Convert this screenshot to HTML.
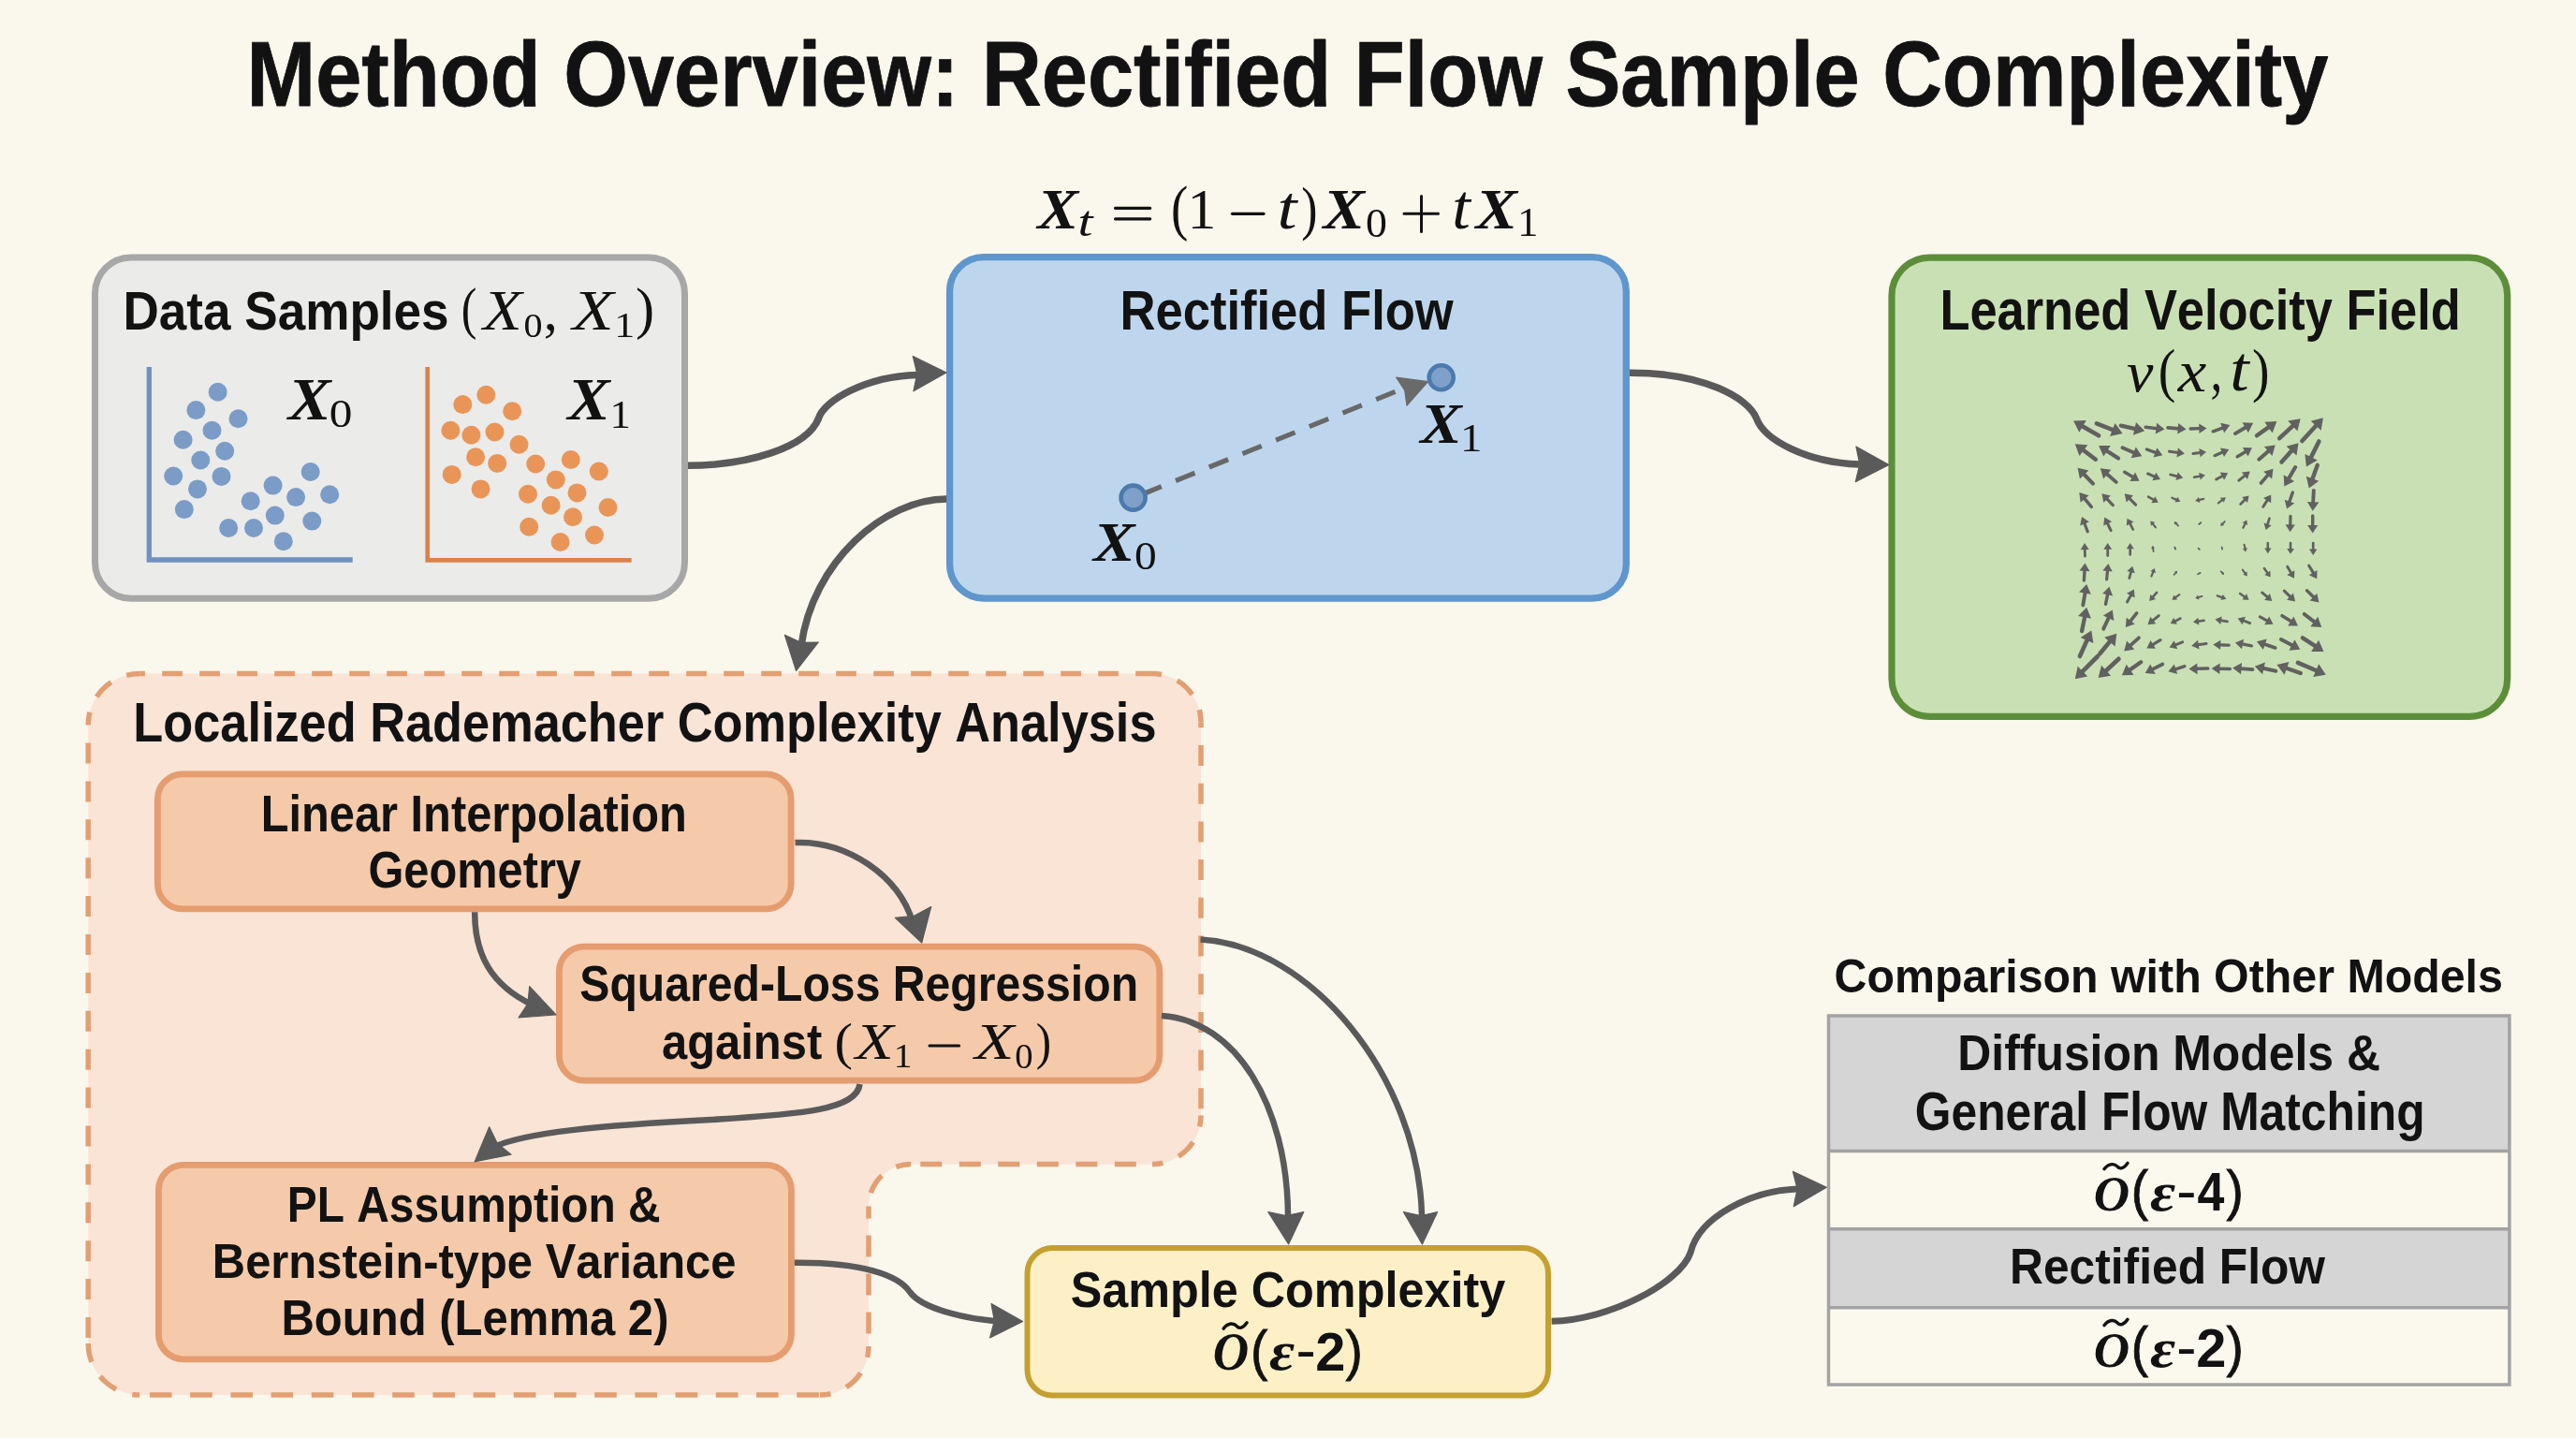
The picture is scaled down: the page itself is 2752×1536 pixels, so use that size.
<!DOCTYPE html>
<html><head><meta charset="utf-8"><style>
html,body{margin:0;padding:0;background:#FAF7ED;width:2752px;height:1536px;overflow:hidden;position:relative}
svg text{-webkit-font-smoothing:antialiased}
svg{will-change:transform}
</style></head><body>
<svg width="2752" height="1536" viewBox="0 0 2752 1536" style="position:absolute;left:0;top:0">
<rect width="2752" height="1536" fill="#FAF7ED"/>
<text transform="translate(263.59,113.00) scale(0.8939,1)" font-family='"Liberation Sans", sans-serif' font-size="98.84" font-weight="bold" font-style="normal" fill="#121212" stroke="#121212" stroke-width="0.8" stroke-linejoin="round" style="font-kerning:none">Method Overview: Rectified Flow Sample Complexity</text>
<text transform="translate(1108.27,243.70) scale(0.6579,0.6185)" font-family='"Liberation Serif", serif' font-size="100.0" font-weight="bold" font-style="italic" fill="#121212">X</text>
<text transform="translate(1151.47,251.54) scale(0.5750,0.4714)" font-family='"Liberation Serif", serif' font-size="100.0" font-weight="normal" font-style="italic" fill="#121212">t</text>
<path d="M1191.5,222.3 H1228.7 M1191.5,233.8 H1228.7" stroke="#121212" stroke-width="3.2" stroke-linecap="round"/>
<text transform="translate(1250.99,244.25) scale(0.5490,0.6551)" font-family='"Liberation Serif", serif' font-size="100.0" font-weight="normal" font-style="normal" fill="#121212">(</text>
<text transform="translate(1268.58,244.10) scale(0.6164,0.6074)" font-family='"Liberation Serif", serif' font-size="100.0" font-weight="normal" font-style="normal" fill="#121212">1</text>
<path d="M1316.5,228.3 H1350" stroke="#121212" stroke-width="3.2" stroke-linecap="round"/>
<text transform="translate(1364.58,243.85) scale(0.7562,0.6635)" font-family='"Liberation Serif", serif' font-size="100.0" font-weight="normal" font-style="italic" fill="#121212">t</text>
<text transform="translate(1390.33,244.00) scale(0.5178,0.6341)" font-family='"Liberation Serif", serif' font-size="100.0" font-weight="normal" font-style="normal" fill="#121212">)</text>
<text transform="translate(1413.39,243.50) scale(0.6663,0.6139)" font-family='"Liberation Serif", serif' font-size="100.0" font-weight="bold" font-style="italic" fill="#121212">X</text>
<text transform="translate(1458.96,252.86) scale(0.4577,0.4461)" font-family='"Liberation Serif", serif' font-size="100.0" font-weight="normal" font-style="normal" fill="#121212">0</text>
<path d="M1500,228.3 H1536.5 M1518.5,209.5 V247.5" stroke="#121212" stroke-width="3" stroke-linecap="round"/>
<text transform="translate(1551.30,243.84) scale(0.7050,0.6774)" font-family='"Liberation Serif", serif' font-size="100.0" font-weight="normal" font-style="italic" fill="#121212">t</text>
<text transform="translate(1576.49,243.50) scale(0.6663,0.6139)" font-family='"Liberation Serif", serif' font-size="100.0" font-weight="bold" font-style="italic" fill="#121212">X</text>
<text transform="translate(1621.31,252.30) scale(0.4431,0.4408)" font-family='"Liberation Serif", serif' font-size="100.0" font-weight="normal" font-style="normal" fill="#121212">1</text>
<rect x="101.5" y="275.0" width="630.0" height="364.3" rx="38.5" fill="#EBEBEA" stroke="#A7A7A7" stroke-width="7" />
<text transform="translate(131.45,351.70) scale(0.9201,1)" font-family='"Liberation Sans", sans-serif' font-size="57.70" font-weight="bold" font-style="normal" fill="#121212" style="font-kerning:none">Data Samples</text>
<text transform="translate(492.81,349.97) scale(0.4984,0.6121)" font-family='"Liberation Serif", serif' font-size="100.0" font-weight="normal" font-style="normal" fill="#121212">(</text>
<text transform="translate(515.97,351.70) scale(0.6846,0.6063)" font-family='"Liberation Serif", serif' font-size="100.0" font-weight="normal" font-style="italic" fill="#121212">X</text>
<text transform="translate(559.47,359.55) scale(0.4011,0.3631)" font-family='"Liberation Serif", serif' font-size="100.0" font-weight="normal" font-style="normal" fill="#121212">0</text>
<text transform="translate(580.70,352.42) scale(0.6043,0.6230)" font-family='"Liberation Serif", serif' font-size="100.0" font-weight="normal" font-style="normal" fill="#121212">,</text>
<text transform="translate(611.41,351.70) scale(0.7246,0.6063)" font-family='"Liberation Serif", serif' font-size="100.0" font-weight="normal" font-style="italic" fill="#121212">X</text>
<text transform="translate(656.13,359.90) scale(0.4403,0.3711)" font-family='"Liberation Serif", serif' font-size="100.0" font-weight="normal" font-style="normal" fill="#121212">1</text>
<text transform="translate(679.06,349.97) scale(0.6035,0.6121)" font-family='"Liberation Serif", serif' font-size="100.0" font-weight="normal" font-style="normal" fill="#121212">)</text>
<path d="M159.3,392 V598 H376.7" stroke="#6F90C0" stroke-width="5.3" fill="none"/>
<circle cx="232.7" cy="418.7" r="10" fill="#7B9CC7"/>
<circle cx="209.4" cy="438.1" r="10" fill="#7B9CC7"/>
<circle cx="254.5" cy="447.3" r="10" fill="#7B9CC7"/>
<circle cx="226.5" cy="459.8" r="10" fill="#7B9CC7"/>
<circle cx="195.6" cy="469.8" r="10" fill="#7B9CC7"/>
<circle cx="240.2" cy="481.8" r="10" fill="#7B9CC7"/>
<circle cx="214.3" cy="491.5" r="10" fill="#7B9CC7"/>
<circle cx="185.2" cy="508.5" r="10" fill="#7B9CC7"/>
<circle cx="236.5" cy="508.9" r="10" fill="#7B9CC7"/>
<circle cx="211" cy="522.4" r="10" fill="#7B9CC7"/>
<circle cx="196.8" cy="544.1" r="10" fill="#7B9CC7"/>
<circle cx="331.7" cy="504" r="10" fill="#7B9CC7"/>
<circle cx="291.6" cy="518.6" r="10" fill="#7B9CC7"/>
<circle cx="316.1" cy="531.1" r="10" fill="#7B9CC7"/>
<circle cx="352.2" cy="528.2" r="10" fill="#7B9CC7"/>
<circle cx="267.7" cy="535.3" r="10" fill="#7B9CC7"/>
<circle cx="293.8" cy="550.6" r="10" fill="#7B9CC7"/>
<circle cx="333.3" cy="556.6" r="10" fill="#7B9CC7"/>
<circle cx="244.2" cy="564" r="10" fill="#7B9CC7"/>
<circle cx="271" cy="564" r="10" fill="#7B9CC7"/>
<circle cx="302.8" cy="578.3" r="10" fill="#7B9CC7"/>
<text transform="translate(307.75,447.60) scale(0.6873,0.6246)" font-family='"Liberation Serif", serif' font-size="100.0" font-weight="bold" font-style="italic" fill="#121212">X</text>
<text transform="translate(351.82,456.39) scale(0.4931,0.4209)" font-family='"Liberation Serif", serif' font-size="100.0" font-weight="normal" font-style="normal" fill="#121212">0</text>
<path d="M456.7,392 V598.3 H674.6" stroke="#D9824A" stroke-width="4.7" fill="none"/>
<circle cx="519.3" cy="421.7" r="10" fill="#EA9558"/>
<circle cx="494.3" cy="432.1" r="10" fill="#EA9558"/>
<circle cx="547.2" cy="439.3" r="10" fill="#EA9558"/>
<circle cx="481.4" cy="459.8" r="10" fill="#EA9558"/>
<circle cx="503.4" cy="464.8" r="10" fill="#EA9558"/>
<circle cx="528.5" cy="461.5" r="10" fill="#EA9558"/>
<circle cx="554.5" cy="474.8" r="10" fill="#EA9558"/>
<circle cx="508.1" cy="488.2" r="10" fill="#EA9558"/>
<circle cx="531.2" cy="494.9" r="10" fill="#EA9558"/>
<circle cx="482.7" cy="506.9" r="10" fill="#EA9558"/>
<circle cx="513.5" cy="522.4" r="10" fill="#EA9558"/>
<circle cx="572.2" cy="495.5" r="10" fill="#EA9558"/>
<circle cx="609.8" cy="491" r="10" fill="#EA9558"/>
<circle cx="593.8" cy="512.4" r="10" fill="#EA9558"/>
<circle cx="639.8" cy="503.5" r="10" fill="#EA9558"/>
<circle cx="564" cy="527.7" r="10" fill="#EA9558"/>
<circle cx="616.5" cy="526.4" r="10" fill="#EA9558"/>
<circle cx="588.6" cy="539.8" r="10" fill="#EA9558"/>
<circle cx="649.5" cy="542" r="10" fill="#EA9558"/>
<circle cx="612" cy="552.3" r="10" fill="#EA9558"/>
<circle cx="565.2" cy="562.8" r="10" fill="#EA9558"/>
<circle cx="635" cy="571.5" r="10" fill="#EA9558"/>
<circle cx="598.6" cy="579" r="10" fill="#EA9558"/>
<text transform="translate(606.13,447.60) scale(0.6803,0.6246)" font-family='"Liberation Serif", serif' font-size="100.0" font-weight="bold" font-style="italic" fill="#121212">X</text>
<text transform="translate(651.46,456.80) scale(0.4488,0.4302)" font-family='"Liberation Serif", serif' font-size="100.0" font-weight="normal" font-style="normal" fill="#121212">1</text>
<rect x="1014.6" y="274.6" width="722.7" height="364.5" rx="36.4" fill="#BED6ED" stroke="#5F96CD" stroke-width="7.3" />
<text transform="translate(1196.48,352.40) scale(0.8781,1)" font-family='"Liberation Sans", sans-serif' font-size="59.88" font-weight="bold" font-style="normal" fill="#121212" style="font-kerning:none">Rectified Flow</text>
<line x1="1224" y1="526.5" x2="1494" y2="417" stroke="#686868" stroke-width="5.2" stroke-dasharray="22 16.5" stroke-dashoffset="3.9"/>
<polygon points="1525.5,407.7 1491.7,403.2 1500.7,416.9 1503.0,433.2" fill="#6A6A6A" stroke="#6A6A6A" stroke-width="1.2" stroke-linejoin="round"/>
<circle cx="1210.6" cy="531.6" r="13" fill="#7EA0C9" stroke="#4A7AAE" stroke-width="4.6"/>
<circle cx="1539.7" cy="403.2" r="13" fill="#7EA0C9" stroke="#4A7AAE" stroke-width="4.6"/>
<text transform="translate(1167.99,599.00) scale(0.6663,0.5956)" font-family='"Liberation Serif", serif' font-size="100.0" font-weight="bold" font-style="italic" fill="#121212">X</text>
<text transform="translate(1211.99,607.58) scale(0.4742,0.4298)" font-family='"Liberation Serif", serif' font-size="100.0" font-weight="normal" font-style="normal" fill="#121212">0</text>
<text transform="translate(1517.19,472.70) scale(0.6663,0.6109)" font-family='"Liberation Serif", serif' font-size="100.0" font-weight="bold" font-style="italic" fill="#121212">X</text>
<text transform="translate(1559.88,481.50) scale(0.4687,0.4317)" font-family='"Liberation Serif", serif' font-size="100.0" font-weight="normal" font-style="normal" fill="#121212">1</text>
<rect x="2021.0" y="275.2" width="657.7" height="490.2" rx="40.4" fill="#C9E0B4" stroke="#5C8E3A" stroke-width="7.2" />
<text transform="translate(2072.39,352.20) scale(0.8672,1)" font-family='"Liberation Sans", sans-serif' font-size="60.47" font-weight="bold" font-style="normal" fill="#121212" style="font-kerning:none">Learned Velocity Field</text>
<text transform="translate(2272.02,417.50) scale(0.6416,0.6187)" font-family='"Liberation Serif", serif' font-size="100.0" font-weight="normal" font-style="italic" fill="#121212">v</text>
<text transform="translate(2305.75,416.61) scale(0.5568,0.6430)" font-family='"Liberation Serif", serif' font-size="100.0" font-weight="normal" font-style="normal" fill="#121212">(</text>
<text transform="translate(2326.84,418.10) scale(0.6864,0.6318)" font-family='"Liberation Serif", serif' font-size="100.0" font-weight="normal" font-style="italic" fill="#121212">x</text>
<text transform="translate(2361.46,416.56) scale(0.5103,0.6658)" font-family='"Liberation Serif", serif' font-size="100.0" font-weight="normal" font-style="normal" fill="#121212">,</text>
<text transform="translate(2382.18,417.43) scale(0.7326,0.6827)" font-family='"Liberation Serif", serif' font-size="100.0" font-weight="normal" font-style="italic" fill="#121212">t</text>
<text transform="translate(2406.01,416.61) scale(0.5568,0.6430)" font-family='"Liberation Serif", serif' font-size="100.0" font-weight="normal" font-style="normal" fill="#121212">)</text>
<line x1="2242.1" y1="465.3" x2="2224.2" y2="454.9" stroke="#616161" stroke-width="4.60" stroke-linecap="round"/>
<polygon points="2215.1,449.6 2228.8,448.9 2221.3,461.8" fill="#616161"/>
<line x1="2239.9" y1="452.4" x2="2257.7" y2="459.3" stroke="#616161" stroke-width="4.60" stroke-linecap="round"/>
<polygon points="2267.5,463.1 2254.1,465.9 2259.5,452.0" fill="#616161"/>
<line x1="2265.8" y1="454.6" x2="2281.4" y2="458.1" stroke="#616161" stroke-width="4.37" stroke-linecap="round"/>
<polygon points="2291.1,460.3 2278.9,464.8 2282.0,451.0" fill="#616161"/>
<line x1="2292.2" y1="456.3" x2="2304.4" y2="457.7" stroke="#616161" stroke-width="3.65" stroke-linecap="round"/>
<polygon points="2312.5,458.6 2302.8,463.5 2304.1,451.7" fill="#616161"/>
<line x1="2315.9" y1="456.9" x2="2327.7" y2="457.9" stroke="#616161" stroke-width="3.57" stroke-linecap="round"/>
<polygon points="2335.6,458.6 2326.2,463.6 2327.2,452.0" fill="#616161"/>
<line x1="2340.1" y1="458.0" x2="2350.4" y2="457.7" stroke="#616161" stroke-width="3.27" stroke-linecap="round"/>
<polygon points="2357.5,457.4 2349.5,463.0 2349.2,452.4" fill="#616161"/>
<line x1="2364.3" y1="460.8" x2="2375.0" y2="456.8" stroke="#616161" stroke-width="3.50" stroke-linecap="round"/>
<polygon points="2382.3,454.1 2376.1,462.5 2372.1,451.8" fill="#616161"/>
<line x1="2387.9" y1="463.1" x2="2399.6" y2="456.2" stroke="#616161" stroke-width="3.89" stroke-linecap="round"/>
<polygon points="2407.1,451.8 2401.9,462.2 2395.5,451.3" fill="#616161"/>
<line x1="2411.0" y1="465.3" x2="2424.2" y2="455.9" stroke="#616161" stroke-width="4.41" stroke-linecap="round"/>
<polygon points="2432.4,450.1 2427.6,462.4 2419.3,450.7" fill="#616161"/>
<line x1="2435.2" y1="468.1" x2="2450.0" y2="454.4" stroke="#616161" stroke-width="4.60" stroke-linecap="round"/>
<polygon points="2457.7,447.3 2454.4,460.6 2444.2,449.6" fill="#616161"/>
<line x1="2459.4" y1="471.0" x2="2474.9" y2="454.0" stroke="#616161" stroke-width="4.60" stroke-linecap="round"/>
<polygon points="2481.9,446.2 2479.7,459.7 2468.7,449.7" fill="#616161"/>
<line x1="2238.8" y1="490.7" x2="2225.2" y2="480.5" stroke="#616161" stroke-width="4.56" stroke-linecap="round"/>
<polygon points="2216.8,474.3 2230.4,475.2 2221.5,487.1" fill="#616161"/>
<line x1="2263.0" y1="489.5" x2="2250.2" y2="481.2" stroke="#616161" stroke-width="4.23" stroke-linecap="round"/>
<polygon points="2242.1,476.0 2254.8,476.0 2247.3,487.5" fill="#616161"/>
<line x1="2267.5" y1="478.3" x2="2280.2" y2="483.8" stroke="#616161" stroke-width="3.95" stroke-linecap="round"/>
<polygon points="2288.3,487.3 2276.7,489.3 2281.8,477.5" fill="#616161"/>
<line x1="2293.4" y1="480.0" x2="2303.4" y2="483.6" stroke="#616161" stroke-width="3.34" stroke-linecap="round"/>
<polygon points="2310.3,486.2 2300.6,488.4 2304.3,478.2" fill="#616161"/>
<line x1="2317.6" y1="482.2" x2="2327.1" y2="483.5" stroke="#616161" stroke-width="3.14" stroke-linecap="round"/>
<polygon points="2333.9,484.5 2325.4,488.5 2326.8,478.3" fill="#616161"/>
<line x1="2342.9" y1="484.5" x2="2350.9" y2="483.5" stroke="#616161" stroke-width="2.84" stroke-linecap="round"/>
<polygon points="2357.0,482.8 2350.5,488.2 2349.4,479.0" fill="#616161"/>
<line x1="2366.0" y1="486.7" x2="2374.9" y2="482.8" stroke="#616161" stroke-width="3.16" stroke-linecap="round"/>
<polygon points="2381.2,480.0 2376.0,487.9 2371.9,478.5" fill="#616161"/>
<line x1="2390.2" y1="487.8" x2="2399.5" y2="482.2" stroke="#616161" stroke-width="3.40" stroke-linecap="round"/>
<polygon points="2405.9,478.3 2401.6,487.4 2395.8,478.0" fill="#616161"/>
<line x1="2413.3" y1="490.7" x2="2423.9" y2="481.4" stroke="#616161" stroke-width="4.01" stroke-linecap="round"/>
<polygon points="2430.7,475.5 2427.4,487.0 2418.9,477.1" fill="#616161"/>
<line x1="2437.5" y1="493.5" x2="2448.6" y2="480.9" stroke="#616161" stroke-width="4.52" stroke-linecap="round"/>
<polygon points="2455.5,473.2 2453.5,486.5 2442.5,476.8" fill="#616161"/>
<line x1="2477.4" y1="471.5" x2="2468.6" y2="489.1" stroke="#616161" stroke-width="4.60" stroke-linecap="round"/>
<polygon points="2463.9,498.5 2462.4,484.9 2475.8,491.6" fill="#616161"/>
<line x1="2236.0" y1="516.6" x2="2226.0" y2="506.2" stroke="#616161" stroke-width="4.05" stroke-linecap="round"/>
<polygon points="2219.6,499.7 2231.4,502.4 2221.9,511.5" fill="#616161"/>
<line x1="2260.7" y1="514.9" x2="2250.5" y2="506.0" stroke="#616161" stroke-width="3.90" stroke-linecap="round"/>
<polygon points="2243.8,500.2 2255.4,501.8 2247.1,511.4" fill="#616161"/>
<line x1="2269.7" y1="504.2" x2="2279.1" y2="509.8" stroke="#616161" stroke-width="3.40" stroke-linecap="round"/>
<polygon points="2285.5,513.7 2275.4,514.0 2281.1,504.6" fill="#616161"/>
<line x1="2294.5" y1="505.9" x2="2302.3" y2="509.4" stroke="#616161" stroke-width="2.93" stroke-linecap="round"/>
<polygon points="2308.0,512.0 2299.4,513.3 2303.3,504.7" fill="#616161"/>
<line x1="2318.7" y1="507.0" x2="2326.4" y2="508.9" stroke="#616161" stroke-width="2.81" stroke-linecap="round"/>
<polygon points="2332.2,510.4 2324.4,513.1 2326.6,504.3" fill="#616161"/>
<line x1="2344.0" y1="509.8" x2="2350.9" y2="508.5" stroke="#616161" stroke-width="2.56" stroke-linecap="round"/>
<polygon points="2355.8,507.5 2350.7,512.5 2349.2,504.8" fill="#616161"/>
<line x1="2367.7" y1="512.0" x2="2374.7" y2="508.2" stroke="#616161" stroke-width="2.83" stroke-linecap="round"/>
<polygon points="2380.1,505.3 2376.1,512.7 2371.7,504.6" fill="#616161"/>
<line x1="2391.9" y1="513.2" x2="2398.7" y2="507.7" stroke="#616161" stroke-width="2.98" stroke-linecap="round"/>
<polygon points="2403.7,503.6 2401.0,512.0 2394.9,504.5" fill="#616161"/>
<line x1="2415.5" y1="516.0" x2="2423.3" y2="506.9" stroke="#616161" stroke-width="3.60" stroke-linecap="round"/>
<polygon points="2428.5,500.8 2427.1,511.4 2418.2,503.8" fill="#616161"/>
<line x1="2452.1" y1="499.1" x2="2444.9" y2="511.5" stroke="#616161" stroke-width="4.05" stroke-linecap="round"/>
<polygon points="2440.3,519.4 2439.7,507.3 2451.1,513.9" fill="#616161"/>
<line x1="2475.7" y1="496.9" x2="2470.2" y2="512.2" stroke="#616161" stroke-width="4.43" stroke-linecap="round"/>
<polygon points="2466.7,521.6 2463.8,508.8 2477.3,513.7" fill="#616161"/>
<line x1="2234.3" y1="541.3" x2="2226.5" y2="532.2" stroke="#616161" stroke-width="3.60" stroke-linecap="round"/>
<polygon points="2221.3,526.1 2231.6,529.2 2222.7,536.8" fill="#616161"/>
<line x1="2257.3" y1="539.6" x2="2250.4" y2="532.4" stroke="#616161" stroke-width="3.23" stroke-linecap="round"/>
<polygon points="2245.5,527.2 2254.9,529.5 2247.3,536.7" fill="#616161"/>
<line x1="2281.6" y1="539.1" x2="2274.6" y2="532.1" stroke="#616161" stroke-width="3.17" stroke-linecap="round"/>
<polygon points="2269.7,527.2 2279.0,529.2 2271.7,536.5" fill="#616161"/>
<line x1="2295.1" y1="530.6" x2="2301.3" y2="534.2" stroke="#616161" stroke-width="2.61" stroke-linecap="round"/>
<polygon points="2305.8,536.8 2298.4,537.2 2302.4,530.2" fill="#616161"/>
<line x1="2320.4" y1="531.7" x2="2325.8" y2="534.1" stroke="#616161" stroke-width="2.28" stroke-linecap="round"/>
<polygon points="2329.4,535.7 2323.6,536.6 2326.2,530.8" fill="#616161"/>
<line x1="2354.2" y1="532.9" x2="2348.7" y2="534.2" stroke="#616161" stroke-width="2.21" stroke-linecap="round"/>
<polygon points="2345.2,535.1 2348.9,531.1 2350.4,536.9" fill="#616161"/>
<line x1="2369.9" y1="537.4" x2="2374.6" y2="533.7" stroke="#616161" stroke-width="2.30" stroke-linecap="round"/>
<polygon points="2377.8,531.2 2375.9,536.8 2371.8,531.7" fill="#616161"/>
<line x1="2393.6" y1="538.5" x2="2398.8" y2="533.3" stroke="#616161" stroke-width="2.66" stroke-linecap="round"/>
<polygon points="2402.6,529.5 2401.0,536.9 2395.1,531.1" fill="#616161"/>
<line x1="2417.8" y1="541.3" x2="2422.6" y2="533.8" stroke="#616161" stroke-width="3.01" stroke-linecap="round"/>
<polygon points="2426.2,528.4 2426.2,537.3 2418.0,532.0" fill="#616161"/>
<line x1="2449.3" y1="526.1" x2="2445.6" y2="536.5" stroke="#616161" stroke-width="3.41" stroke-linecap="round"/>
<polygon points="2443.1,543.6 2440.7,533.7 2451.2,537.4" fill="#616161"/>
<line x1="2471.8" y1="523.9" x2="2471.1" y2="537.2" stroke="#616161" stroke-width="3.86" stroke-linecap="round"/>
<polygon points="2470.7,545.8 2464.9,535.9 2477.4,536.5" fill="#616161"/>
<line x1="2230.3" y1="567.8" x2="2226.7" y2="558.5" stroke="#616161" stroke-width="3.20" stroke-linecap="round"/>
<polygon points="2224.1,552.0 2231.9,557.6 2222.2,561.4" fill="#616161"/>
<line x1="2255.1" y1="566.6" x2="2251.2" y2="558.5" stroke="#616161" stroke-width="3.03" stroke-linecap="round"/>
<polygon points="2248.3,552.6 2256.1,557.3 2247.2,561.5" fill="#616161"/>
<line x1="2278.7" y1="565.5" x2="2275.2" y2="558.7" stroke="#616161" stroke-width="2.73" stroke-linecap="round"/>
<polygon points="2272.5,553.7 2279.5,557.6 2271.8,561.6" fill="#616161"/>
<line x1="2302.9" y1="563.3" x2="2299.5" y2="559.1" stroke="#616161" stroke-width="2.14" stroke-linecap="round"/>
<polygon points="2297.3,556.5 2302.3,558.1 2297.9,561.7" fill="#616161"/>
<line x1="2327.1" y1="561.6" x2="2324.2" y2="558.6" stroke="#616161" stroke-width="1.83" stroke-linecap="round"/>
<polygon points="2322.6,557.1 2326.4,557.9 2323.4,560.8" fill="#616161"/>
<line x1="2351.3" y1="558.2" x2="2349.2" y2="560.0" stroke="#616161" stroke-width="1.80" stroke-linecap="round"/>
<line x1="2376.7" y1="557.1" x2="2373.8" y2="560.4" stroke="#616161" stroke-width="1.88" stroke-linecap="round"/>
<polygon points="2372.2,562.1 2372.8,558.1 2376.1,561.1" fill="#616161"/>
<line x1="2396.4" y1="563.8" x2="2398.8" y2="558.7" stroke="#616161" stroke-width="2.21" stroke-linecap="round"/>
<polygon points="2400.3,555.4 2401.1,560.9 2395.6,558.3" fill="#616161"/>
<line x1="2424.5" y1="553.7" x2="2422.2" y2="560.8" stroke="#616161" stroke-width="2.69" stroke-linecap="round"/>
<polygon points="2420.6,566.1 2418.5,558.6 2426.6,561.2" fill="#616161"/>
<line x1="2447.0" y1="551.4" x2="2446.7" y2="561.3" stroke="#616161" stroke-width="3.20" stroke-linecap="round"/>
<polygon points="2446.5,568.3 2441.5,560.2 2451.9,560.5" fill="#616161"/>
<line x1="2470.7" y1="550.9" x2="2470.7" y2="561.9" stroke="#616161" stroke-width="3.41" stroke-linecap="round"/>
<polygon points="2470.7,569.5 2465.1,560.9 2476.2,560.9" fill="#616161"/>
<line x1="2227.5" y1="594.1" x2="2227.2" y2="586.0" stroke="#616161" stroke-width="2.83" stroke-linecap="round"/>
<polygon points="2227.0,580.0 2231.8,586.9 2222.7,587.2" fill="#616161"/>
<line x1="2251.7" y1="593.5" x2="2251.7" y2="585.8" stroke="#616161" stroke-width="2.76" stroke-linecap="round"/>
<polygon points="2251.7,580.0 2256.1,586.8 2247.3,586.8" fill="#616161"/>
<line x1="2275.7" y1="592.4" x2="2275.7" y2="585.2" stroke="#616161" stroke-width="2.61" stroke-linecap="round"/>
<polygon points="2275.7,580.0 2279.7,586.2 2271.7,586.2" fill="#616161"/>
<line x1="2300.7" y1="589.0" x2="2299.9" y2="584.9" stroke="#616161" stroke-width="1.82" stroke-linecap="round"/>
<polygon points="2299.6,582.8 2302.1,585.5 2298.1,586.3" fill="#616161"/>
<line x1="2323.2" y1="584.5" x2="2324.2" y2="586.5" stroke="#616161" stroke-width="1.80" stroke-linecap="round"/>
<line x1="2348.5" y1="585.6" x2="2349.8" y2="586.9" stroke="#616161" stroke-width="1.80" stroke-linecap="round"/>
<line x1="2373.6" y1="584.5" x2="2374.1" y2="586.6" stroke="#616161" stroke-width="1.80" stroke-linecap="round"/>
<line x1="2397.5" y1="581.7" x2="2398.6" y2="586.6" stroke="#616161" stroke-width="2.05" stroke-linecap="round"/>
<polygon points="2399.2,589.6 2395.8,586.2 2400.9,585.1" fill="#616161"/>
<line x1="2422.8" y1="580.0" x2="2422.8" y2="586.6" stroke="#616161" stroke-width="2.46" stroke-linecap="round"/>
<polygon points="2422.8,591.3 2419.2,585.6 2426.5,585.6" fill="#616161"/>
<line x1="2447.0" y1="580.0" x2="2447.0" y2="586.9" stroke="#616161" stroke-width="2.54" stroke-linecap="round"/>
<polygon points="2447.0,591.8 2443.2,585.9 2450.9,585.9" fill="#616161"/>
<line x1="2471.2" y1="580.0" x2="2471.2" y2="587.5" stroke="#616161" stroke-width="2.68" stroke-linecap="round"/>
<polygon points="2471.2,592.9 2467.0,586.5 2475.4,586.5" fill="#616161"/>
<line x1="2226.4" y1="620.0" x2="2227.1" y2="608.9" stroke="#616161" stroke-width="3.42" stroke-linecap="round"/>
<polygon points="2227.5,601.4 2232.5,610.3 2221.5,609.6" fill="#616161"/>
<line x1="2250.6" y1="618.8" x2="2251.6" y2="608.9" stroke="#616161" stroke-width="3.21" stroke-linecap="round"/>
<polygon points="2252.3,602.0 2256.7,610.4 2246.3,609.4" fill="#616161"/>
<line x1="2274.8" y1="617.7" x2="2276.7" y2="610.3" stroke="#616161" stroke-width="2.74" stroke-linecap="round"/>
<polygon points="2278.2,604.8 2280.7,612.3 2272.3,610.1" fill="#616161"/>
<line x1="2298.4" y1="615.5" x2="2300.5" y2="610.3" stroke="#616161" stroke-width="2.18" stroke-linecap="round"/>
<polygon points="2301.8,607.0 2302.9,612.3 2297.4,610.1" fill="#616161"/>
<line x1="2322.6" y1="613.8" x2="2325.0" y2="611.0" stroke="#616161" stroke-width="1.80" stroke-linecap="round"/>
<polygon points="2326.0,609.8 2325.6,612.9 2323.0,610.7" fill="#616161"/>
<line x1="2348.0" y1="613.2" x2="2350.6" y2="611.9" stroke="#616161" stroke-width="1.80" stroke-linecap="round"/>
<line x1="2372.7" y1="610.4" x2="2375.1" y2="612.8" stroke="#616161" stroke-width="1.80" stroke-linecap="round"/>
<polygon points="2376.1,613.8 2373.3,613.2 2375.5,611.0" fill="#616161"/>
<line x1="2395.8" y1="608.7" x2="2398.9" y2="612.9" stroke="#616161" stroke-width="2.10" stroke-linecap="round"/>
<polygon points="2400.9,615.5 2396.2,613.7 2400.5,610.4" fill="#616161"/>
<line x1="2418.9" y1="607.0" x2="2422.8" y2="612.6" stroke="#616161" stroke-width="2.52" stroke-linecap="round"/>
<polygon points="2425.6,616.6 2419.2,614.0 2425.4,609.6" fill="#616161"/>
<line x1="2443.7" y1="605.3" x2="2447.8" y2="612.4" stroke="#616161" stroke-width="2.87" stroke-linecap="round"/>
<polygon points="2451.0,617.7 2443.3,613.9 2451.3,609.2" fill="#616161"/>
<line x1="2466.7" y1="604.2" x2="2471.7" y2="612.4" stroke="#616161" stroke-width="3.13" stroke-linecap="round"/>
<polygon points="2475.2,618.3 2466.8,614.2 2475.5,608.9" fill="#616161"/>
<line x1="2225.3" y1="646.4" x2="2227.7" y2="632.7" stroke="#616161" stroke-width="3.97" stroke-linecap="round"/>
<polygon points="2229.2,623.9 2233.8,634.8 2221.1,632.6" fill="#616161"/>
<line x1="2249.5" y1="645.3" x2="2251.8" y2="634.2" stroke="#616161" stroke-width="3.47" stroke-linecap="round"/>
<polygon points="2253.4,626.7 2257.1,636.4 2246.1,634.0" fill="#616161"/>
<line x1="2272.5" y1="643.0" x2="2276.8" y2="635.2" stroke="#616161" stroke-width="3.00" stroke-linecap="round"/>
<polygon points="2279.9,629.5 2280.6,638.4 2272.0,633.8" fill="#616161"/>
<line x1="2304.1" y1="632.9" x2="2299.5" y2="638.2" stroke="#616161" stroke-width="2.56" stroke-linecap="round"/>
<polygon points="2296.2,641.9 2297.2,634.9 2303.1,640.0" fill="#616161"/>
<line x1="2328.3" y1="635.2" x2="2323.5" y2="638.6" stroke="#616161" stroke-width="2.26" stroke-linecap="round"/>
<polygon points="2320.4,640.8 2322.5,635.4 2326.2,640.5" fill="#616161"/>
<line x1="2352.5" y1="636.9" x2="2347.9" y2="638.3" stroke="#616161" stroke-width="2.00" stroke-linecap="round"/>
<polygon points="2345.2,639.1 2348.1,635.6 2349.5,640.4" fill="#616161"/>
<line x1="2368.8" y1="636.3" x2="2374.5" y2="638.3" stroke="#616161" stroke-width="2.32" stroke-linecap="round"/>
<polygon points="2378.4,639.7 2372.5,641.1 2374.7,634.9" fill="#616161"/>
<line x1="2393.0" y1="634.0" x2="2398.6" y2="638.0" stroke="#616161" stroke-width="2.52" stroke-linecap="round"/>
<polygon points="2402.6,640.8 2395.6,640.5 2400.0,634.3" fill="#616161"/>
<line x1="2416.6" y1="632.9" x2="2422.8" y2="638.1" stroke="#616161" stroke-width="2.82" stroke-linecap="round"/>
<polygon points="2427.3,641.9 2419.1,640.9 2424.9,633.9" fill="#616161"/>
<line x1="2440.3" y1="631.2" x2="2447.2" y2="637.8" stroke="#616161" stroke-width="3.12" stroke-linecap="round"/>
<polygon points="2452.1,642.5 2443.0,640.8 2449.9,633.4" fill="#616161"/>
<line x1="2464.5" y1="630.7" x2="2472.2" y2="638.3" stroke="#616161" stroke-width="3.38" stroke-linecap="round"/>
<polygon points="2477.4,643.6 2467.6,641.5 2475.3,633.7" fill="#616161"/>
<line x1="2224.1" y1="674.0" x2="2227.3" y2="658.4" stroke="#616161" stroke-width="4.36" stroke-linecap="round"/>
<polygon points="2229.2,648.7 2234.0,660.7 2220.1,658.0" fill="#616161"/>
<line x1="2247.2" y1="671.7" x2="2253.0" y2="659.4" stroke="#616161" stroke-width="3.91" stroke-linecap="round"/>
<polygon points="2256.8,651.5 2258.4,663.0 2246.9,657.6" fill="#616161"/>
<line x1="2282.7" y1="654.9" x2="2275.6" y2="663.9" stroke="#616161" stroke-width="3.50" stroke-linecap="round"/>
<polygon points="2270.9,670.1 2271.7,659.7 2280.7,666.6" fill="#616161"/>
<line x1="2306.3" y1="657.7" x2="2299.5" y2="663.2" stroke="#616161" stroke-width="2.98" stroke-linecap="round"/>
<polygon points="2294.5,667.2 2297.2,658.8 2303.3,666.3" fill="#616161"/>
<line x1="2329.4" y1="660.5" x2="2323.2" y2="663.8" stroke="#616161" stroke-width="2.57" stroke-linecap="round"/>
<polygon points="2318.7,666.1 2322.2,659.8 2325.9,666.8" fill="#616161"/>
<line x1="2354.7" y1="662.7" x2="2347.8" y2="663.7" stroke="#616161" stroke-width="2.55" stroke-linecap="round"/>
<polygon points="2342.9,664.4 2348.3,659.7 2349.4,667.4" fill="#616161"/>
<line x1="2379.5" y1="663.9" x2="2372.0" y2="662.6" stroke="#616161" stroke-width="2.71" stroke-linecap="round"/>
<polygon points="2366.5,661.6 2373.7,658.5 2372.3,666.9" fill="#616161"/>
<line x1="2403.7" y1="665.6" x2="2396.3" y2="662.7" stroke="#616161" stroke-width="2.81" stroke-linecap="round"/>
<polygon points="2390.7,660.5 2398.9,658.8 2395.6,667.2" fill="#616161"/>
<line x1="2414.4" y1="658.8" x2="2422.6" y2="663.4" stroke="#616161" stroke-width="3.10" stroke-linecap="round"/>
<polygon points="2428.5,666.7 2419.2,667.3 2424.2,658.5" fill="#616161"/>
<line x1="2438.0" y1="657.7" x2="2448.2" y2="664.1" stroke="#616161" stroke-width="3.60" stroke-linecap="round"/>
<polygon points="2454.9,668.4 2444.2,668.5 2450.4,658.6" fill="#616161"/>
<line x1="2461.7" y1="656.0" x2="2473.0" y2="664.6" stroke="#616161" stroke-width="4.03" stroke-linecap="round"/>
<polygon points="2480.2,670.1 2468.3,669.2 2476.2,658.8" fill="#616161"/>
<line x1="2221.9" y1="701.0" x2="2230.0" y2="683.0" stroke="#616161" stroke-width="4.60" stroke-linecap="round"/>
<polygon points="2234.3,673.4 2236.4,687.0 2222.7,680.9" fill="#616161"/>
<line x1="2243.3" y1="698.2" x2="2254.5" y2="684.8" stroke="#616161" stroke-width="4.60" stroke-linecap="round"/>
<polygon points="2261.3,676.8 2259.6,690.4 2248.2,680.8" fill="#616161"/>
<line x1="2284.9" y1="681.3" x2="2275.4" y2="689.8" stroke="#616161" stroke-width="3.75" stroke-linecap="round"/>
<polygon points="2269.2,695.4 2272.1,684.6 2280.2,693.7" fill="#616161"/>
<line x1="2308.0" y1="683.6" x2="2299.4" y2="688.9" stroke="#616161" stroke-width="3.23" stroke-linecap="round"/>
<polygon points="2293.4,692.6 2297.5,683.9 2303.0,692.8" fill="#616161"/>
<line x1="2331.6" y1="685.8" x2="2323.5" y2="689.1" stroke="#616161" stroke-width="2.97" stroke-linecap="round"/>
<polygon points="2317.6,691.4 2322.7,684.2 2326.3,693.2" fill="#616161"/>
<line x1="2357.0" y1="687.5" x2="2347.8" y2="688.8" stroke="#616161" stroke-width="3.07" stroke-linecap="round"/>
<polygon points="2341.2,689.8 2348.1,683.7 2349.5,693.6" fill="#616161"/>
<line x1="2381.2" y1="689.2" x2="2371.3" y2="688.9" stroke="#616161" stroke-width="3.20" stroke-linecap="round"/>
<polygon points="2364.3,688.6 2372.5,683.7 2372.1,694.1" fill="#616161"/>
<line x1="2405.4" y1="689.8" x2="2395.1" y2="687.8" stroke="#616161" stroke-width="3.31" stroke-linecap="round"/>
<polygon points="2387.9,686.4 2397.1,682.7 2395.0,693.2" fill="#616161"/>
<line x1="2430.7" y1="692.0" x2="2418.8" y2="687.9" stroke="#616161" stroke-width="3.71" stroke-linecap="round"/>
<polygon points="2411.0,685.3 2421.7,682.6 2417.8,694.0" fill="#616161"/>
<line x1="2436.9" y1="683.0" x2="2449.3" y2="689.5" stroke="#616161" stroke-width="3.98" stroke-linecap="round"/>
<polygon points="2457.2,693.7 2445.4,694.8 2451.4,683.3" fill="#616161"/>
<line x1="2460.0" y1="681.3" x2="2473.9" y2="690.4" stroke="#616161" stroke-width="4.49" stroke-linecap="round"/>
<polygon points="2482.5,696.0 2469.1,696.0 2477.1,683.7" fill="#616161"/>
<line x1="2241.0" y1="701.0" x2="2224.2" y2="717.8" stroke="#616161" stroke-width="4.60" stroke-linecap="round"/>
<polygon points="2216.8,725.2 2219.7,711.8 2230.2,722.4" fill="#616161"/>
<line x1="2263.5" y1="703.8" x2="2249.3" y2="717.0" stroke="#616161" stroke-width="4.60" stroke-linecap="round"/>
<polygon points="2241.6,724.1 2245.0,710.8 2255.1,721.8" fill="#616161"/>
<line x1="2287.2" y1="707.2" x2="2274.7" y2="715.9" stroke="#616161" stroke-width="4.21" stroke-linecap="round"/>
<polygon points="2266.9,721.3 2271.7,709.7 2279.5,720.9" fill="#616161"/>
<line x1="2310.3" y1="709.5" x2="2299.1" y2="715.2" stroke="#616161" stroke-width="3.72" stroke-linecap="round"/>
<polygon points="2291.7,719.0 2297.2,709.4 2302.7,720.1" fill="#616161"/>
<line x1="2333.9" y1="711.7" x2="2323.5" y2="715.1" stroke="#616161" stroke-width="3.38" stroke-linecap="round"/>
<polygon points="2316.4,717.3 2322.8,709.5 2326.2,720.0" fill="#616161"/>
<line x1="2358.7" y1="714.0" x2="2346.5" y2="714.3" stroke="#616161" stroke-width="3.64" stroke-linecap="round"/>
<polygon points="2338.4,714.5 2347.3,708.4 2347.6,720.2" fill="#616161"/>
<line x1="2382.3" y1="714.5" x2="2370.5" y2="714.2" stroke="#616161" stroke-width="3.56" stroke-linecap="round"/>
<polygon points="2362.6,714.0 2371.7,708.4 2371.3,720.0" fill="#616161"/>
<line x1="2406.5" y1="715.1" x2="2393.6" y2="714.1" stroke="#616161" stroke-width="3.79" stroke-linecap="round"/>
<polygon points="2385.1,713.4 2395.0,708.0 2394.1,720.3" fill="#616161"/>
<line x1="2431.3" y1="716.8" x2="2417.5" y2="713.7" stroke="#616161" stroke-width="4.00" stroke-linecap="round"/>
<polygon points="2408.8,711.7 2419.9,707.6 2417.1,720.2" fill="#616161"/>
<line x1="2457.7" y1="719.0" x2="2442.0" y2="713.5" stroke="#616161" stroke-width="4.49" stroke-linecap="round"/>
<polygon points="2432.4,710.0 2445.4,706.9 2440.5,720.7" fill="#616161"/>
<line x1="2454.9" y1="707.8" x2="2475.1" y2="716.5" stroke="#616161" stroke-width="4.60" stroke-linecap="round"/>
<polygon points="2484.7,720.7 2471.2,723.0 2477.2,709.3" fill="#616161"/>
<path d="M735,497.3 C800,497 862,478 874.5,447 C880,428 925,402 980,400.5" stroke="#5A5A5A" stroke-width="7.5" fill="none" stroke-linecap="butt" stroke-linejoin="round" />
<polygon points="1011.0,398.0 975.3,380.5 979.8,399.0 975.9,417.8" fill="#5A5A5A" stroke="#5A5A5A" stroke-width="1.2" stroke-linejoin="round"/>
<path d="M1741,398.2 C1820,398 1868,425 1876.5,447 C1885,470 1930,494 1986,496" stroke="#5A5A5A" stroke-width="7.5" fill="none" stroke-linecap="butt" stroke-linejoin="round" />
<polygon points="2018.0,496.5 1982.9,477.0 1986.8,495.9 1982.3,514.6" fill="#5A5A5A" stroke="#5A5A5A" stroke-width="1.2" stroke-linejoin="round"/>
<path d="M1011.2,533 C945,533 868,600 856,690" stroke="#5A5A5A" stroke-width="7.5" fill="none" stroke-linecap="butt" stroke-linejoin="round" />
<polygon points="850.6,716.5 838.4,678.3 855.7,686.3 874.3,686.0" fill="#5A5A5A" stroke="#5A5A5A" stroke-width="1.2" stroke-linejoin="round"/>
<path d="M94.2,774.6 A55,55 0 0 1 149.2,719.6 H1231 A52,52 0 0 1 1283,771.6 V1191.5 A52,52 0 0 1 1231,1243.5 H973 A45,45 0 0 0 928,1288.5 V1438 A52,52 0 0 1 876,1490 H149.2 A55,55 0 0 1 94.2,1435 Z" fill="#F9E4D6" stroke="none"/>
<line x1="149.2" y1="719.6" x2="1231" y2="719.6" stroke="#E29F72" stroke-width="5.5" stroke-dasharray="21.7 18.3" stroke-dashoffset="16.00"/>
<line x1="1283" y1="771.6" x2="1283" y2="1191.5" stroke="#E29F72" stroke-width="5.5" stroke-dasharray="22 18.700000000000003" stroke-dashoffset="16.30"/>
<line x1="1231" y1="1243.5" x2="973" y2="1243.5" stroke="#E29F72" stroke-width="5.5" stroke-dasharray="23 18.5" stroke-dashoffset="24.30"/>
<line x1="928" y1="1288.5" x2="928" y2="1438" stroke="#E29F72" stroke-width="5.5" stroke-dasharray="23 18" stroke-dashoffset="10.00"/>
<line x1="876" y1="1490" x2="149.2" y2="1490" stroke="#E29F72" stroke-width="5.5" stroke-dasharray="23.6 19.6" stroke-dashoffset="42.00"/>
<line x1="94.2" y1="1435" x2="94.2" y2="774.6" stroke="#E29F72" stroke-width="5.5" stroke-dasharray="22 18.9" stroke-dashoffset="34.90"/>
<path d="M94.2,774.6 A55,55 0 0 1 149.2,719.6" fill="none" stroke="#E29F72" stroke-width="5.5" stroke-dasharray="22 18" stroke-dashoffset="8"/>
<path d="M1231,719.6 A52,52 0 0 1 1283,771.6" fill="none" stroke="#E29F72" stroke-width="5.5" stroke-dasharray="22 18" stroke-dashoffset="12"/>
<path d="M1283,1191.5 A52,52 0 0 1 1231,1243.5" fill="none" stroke="#E29F72" stroke-width="5.5" stroke-dasharray="22 18" stroke-dashoffset="10"/>
<path d="M973,1243.5 A45,45 0 0 0 928,1288.5" fill="none" stroke="#E29F72" stroke-width="5.5" stroke-dasharray="22 18" stroke-dashoffset="6"/>
<path d="M928,1438 A52,52 0 0 1 876,1490" fill="none" stroke="#E29F72" stroke-width="5.5" stroke-dasharray="22 18" stroke-dashoffset="10"/>
<path d="M149.2,1490 A55,55 0 0 1 94.2,1435" fill="none" stroke="#E29F72" stroke-width="5.5" stroke-dasharray="22 18" stroke-dashoffset="14"/>
<text transform="translate(142.30,792.00) scale(0.8781,1)" font-family='"Liberation Sans", sans-serif' font-size="59.59" font-weight="bold" font-style="normal" fill="#121212" style="font-kerning:none">Localized Rademacher Complexity Analysis</text>
<rect x="168.4" y="826.9" width="676.7" height="144.0" rx="26.6" fill="#F5CAAA" stroke="#E59C6F" stroke-width="6.8" />
<text transform="translate(278.64,887.50) scale(0.8833,1)" font-family='"Liberation Sans", sans-serif' font-size="55.23" font-weight="bold" font-style="normal" fill="#121212" style="font-kerning:none">Linear Interpolation</text>
<text transform="translate(393.40,947.60) scale(0.8829,1)" font-family='"Liberation Sans", sans-serif' font-size="55.23" font-weight="bold" font-style="normal" fill="#121212" style="font-kerning:none">Geometry</text>
<rect x="597.4" y="1011.1" width="641.4" height="143.0" rx="26.6" fill="#F5CAAA" stroke="#E59C6F" stroke-width="6.8" />
<text transform="translate(619.31,1069.20) scale(0.9054,1)" font-family='"Liberation Sans", sans-serif' font-size="53.20" font-weight="bold" font-style="normal" fill="#121212" style="font-kerning:none">Squared-Loss Regression</text>
<text transform="translate(707.07,1131.00) scale(0.9188,1)" font-family='"Liberation Sans", sans-serif' font-size="53.20" font-weight="bold" font-style="normal" fill="#121212" style="font-kerning:none">against</text>
<text transform="translate(891.43,1130.57) scale(0.5840,0.5558)" font-family='"Liberation Serif", serif' font-size="100.0" font-weight="normal" font-style="normal" fill="#121212">(</text>
<text transform="translate(913.83,1131.00) scale(0.6713,0.5590)" font-family='"Liberation Serif", serif' font-size="100.0" font-weight="normal" font-style="italic" fill="#121212">X</text>
<text transform="translate(954.83,1139.90) scale(0.3948,0.3620)" font-family='"Liberation Serif", serif' font-size="100.0" font-weight="normal" font-style="normal" fill="#121212">1</text>
<path d="M993,1117 H1024.6" stroke="#121212" stroke-width="3" stroke-linecap="round"/>
<text transform="translate(1041.29,1131.00) scale(0.6906,0.5590)" font-family='"Liberation Serif", serif' font-size="100.0" font-weight="normal" font-style="italic" fill="#121212">X</text>
<text transform="translate(1084.23,1140.64) scale(0.3869,0.3705)" font-family='"Liberation Serif", serif' font-size="100.0" font-weight="normal" font-style="normal" fill="#121212">0</text>
<text transform="translate(1106.82,1130.57) scale(0.4906,0.5558)" font-family='"Liberation Serif", serif' font-size="100.0" font-weight="normal" font-style="normal" fill="#121212">)</text>
<rect x="169.4" y="1244.4" width="676.0" height="207.4" rx="26.6" fill="#F5CAAA" stroke="#E59C6F" stroke-width="6.8" />
<text transform="translate(306.80,1304.60) scale(0.8831,1)" font-family='"Liberation Sans", sans-serif' font-size="54.22" font-weight="bold" font-style="normal" fill="#121212" style="font-kerning:none">PL Assumption &amp;</text>
<text transform="translate(226.83,1365.20) scale(0.9398,1)" font-family='"Liberation Sans", sans-serif' font-size="52.03" font-weight="bold" font-style="normal" fill="#121212" style="font-kerning:none">Bernstein-type Variance</text>
<text transform="translate(300.42,1425.70) scale(0.9043,1)" font-family='"Liberation Sans", sans-serif' font-size="54.22" font-weight="bold" font-style="normal" fill="#121212" style="font-kerning:none">Bound (Lemma 2)</text>
<path d="M849.5,900 C905,898 960,935 975,985" stroke="#5A5A5A" stroke-width="6.5" fill="none" stroke-linecap="butt" stroke-linejoin="round" />
<polygon points="984.7,1007.0 956.3,980.3 976.6,978.4 994.7,968.6" fill="#5A5A5A" stroke="#5A5A5A" stroke-width="1.2" stroke-linejoin="round"/>
<path d="M507.2,974.3 C507,1020 525,1052 568,1073" stroke="#5A5A5A" stroke-width="6.5" fill="none" stroke-linecap="butt" stroke-linejoin="round" />
<polygon points="594.0,1083.8 565.7,1053.7 563.9,1072.0 554.0,1087.0" fill="#5A5A5A" stroke="#5A5A5A" stroke-width="1.2" stroke-linejoin="round"/>
<path d="M918.6,1158 C915,1185 860,1190 760,1196 C640,1202 560,1210 528,1225" stroke="#5A5A5A" stroke-width="6.5" fill="none" stroke-linecap="butt" stroke-linejoin="round" />
<polygon points="507.1,1240.9 522.7,1203.7 531.1,1221.1 546.0,1233.2" fill="#5A5A5A" stroke="#5A5A5A" stroke-width="1.2" stroke-linejoin="round"/>
<path d="M848.8,1348.7 C920,1348 960,1362 972,1380 C985,1398 1030,1408 1062,1411" stroke="#5A5A5A" stroke-width="6.5" fill="none" stroke-linecap="butt" stroke-linejoin="round" />
<polygon points="1092.6,1411.5 1059.0,1392.5 1062.4,1410.8 1057.6,1429.0" fill="#5A5A5A" stroke="#5A5A5A" stroke-width="1.2" stroke-linejoin="round"/>
<path d="M1241,1085 C1320,1090 1375,1180 1376,1298" stroke="#5A5A5A" stroke-width="6.5" fill="none" stroke-linecap="butt" stroke-linejoin="round" />
<polygon points="1376.6,1329.0 1354.9,1294.6 1374.2,1298.7 1392.8,1294.6" fill="#5A5A5A" stroke="#5A5A5A" stroke-width="1.2" stroke-linejoin="round"/>
<path d="M1282.5,1003.5 C1400,1010 1515,1150 1519,1298" stroke="#5A5A5A" stroke-width="6.5" fill="none" stroke-linecap="butt" stroke-linejoin="round" />
<polygon points="1519.4,1329.0 1499.5,1294.6 1517.8,1298.7 1535.7,1294.6" fill="#5A5A5A" stroke="#5A5A5A" stroke-width="1.2" stroke-linejoin="round"/>
<rect x="1097.5" y="1333.0" width="556.5" height="157.6" rx="27.0" fill="#FDF0C6" stroke="#C4A030" stroke-width="6" />
<text transform="translate(1143.65,1396.00) scale(0.9546,1)" font-family='"Liberation Sans", sans-serif' font-size="52.76" font-weight="bold" font-style="normal" fill="#121212" style="font-kerning:none">Sample Complexity</text>
<text transform="translate(1295.78,1463.43) scale(0.5321,0.5805)" font-family='"Liberation Serif", serif' font-size="100.0" font-weight="bold" font-style="italic" fill="#121212">O</text>
<path d="M1307.1,1419.1 C1312.8,1412.2 1318.2,1413.4 1321.0,1416.3 C1323.7,1419.5 1327.8,1419.1 1332.1,1412.8" stroke="#121212" stroke-width="3.4" fill="none" stroke-linecap="round"/>
<text transform="translate(1335.89,1462.79) scale(0.5507,0.5850)" font-family='"Liberation Sans", sans-serif' font-size="100.0" font-weight="normal" font-style="normal" fill="#121212" stroke="#121212" stroke-width="1.41">(</text>
<text transform="translate(1356.12,1463.12) scale(0.6622,0.5905)" font-family='"Liberation Serif", serif' font-size="100.0" font-weight="bold" font-style="italic" fill="#121212">ε</text>
<text transform="translate(1384.67,1457.35) scale(0.6223,0.4029)" font-family='"Liberation Sans", sans-serif' font-size="100.0" font-weight="bold" font-style="normal" fill="#121212">-</text>
<text transform="translate(1405.30,1463.50) scale(0.5774,0.5700)" font-family='"Liberation Sans", sans-serif' font-size="100.0" font-weight="bold" font-style="normal" fill="#121212">2</text>
<text transform="translate(1437.58,1462.79) scale(0.5507,0.5850)" font-family='"Liberation Sans", sans-serif' font-size="100.0" font-weight="normal" font-style="normal" fill="#121212" stroke="#121212" stroke-width="1.41">)</text>
<path d="M1657.6,1411.2 C1720,1410 1795,1370 1806,1338 C1815,1300 1870,1272 1920,1270" stroke="#5A5A5A" stroke-width="7" fill="none" stroke-linecap="butt" stroke-linejoin="round" />
<polygon points="1951.4,1268.2 1915.4,1251.4 1920.1,1269.9 1916.2,1288.8" fill="#5A5A5A" stroke="#5A5A5A" stroke-width="1.2" stroke-linejoin="round"/>
<text transform="translate(1959.62,1059.80) scale(0.9781,1)" font-family='"Liberation Sans", sans-serif' font-size="49.42" font-weight="bold" font-style="normal" fill="#121212" style="font-kerning:none">Comparison with Other Models</text>
<rect x="1953.5" y="1085" width="727" height="144.5" fill="#D5D5D5"/>
<rect x="1953.5" y="1229.5" width="727" height="83" fill="#FBF8EE"/>
<rect x="1953.5" y="1312.5" width="727" height="84" fill="#D5D5D5"/>
<rect x="1953.5" y="1396.5" width="727" height="83" fill="#FBF8EE"/>
<rect x="1953.5" y="1085" width="727.4" height="394" fill="none" stroke="#A3A3A3" stroke-width="3.5"/>
<line x1="1953.5" y1="1229.5" x2="2681" y2="1229.5" stroke="#A3A3A3" stroke-width="3.5"/>
<line x1="1953.5" y1="1312.8" x2="2681" y2="1312.8" stroke="#A3A3A3" stroke-width="3.5"/>
<line x1="1953.5" y1="1396.8" x2="2681" y2="1396.8" stroke="#A3A3A3" stroke-width="3.5"/>
<text transform="translate(2091.36,1142.60) scale(0.9377,1)" font-family='"Liberation Sans", sans-serif' font-size="53.20" font-weight="bold" font-style="normal" fill="#121212" style="font-kerning:none">Diffusion Models &amp;</text>
<text transform="translate(2045.76,1206.90) scale(0.8585,1)" font-family='"Liberation Sans", sans-serif' font-size="57.99" font-weight="bold" font-style="normal" fill="#121212" style="font-kerning:none">General Flow Matching</text>
<text transform="translate(2147.07,1371.30) scale(0.9122,1)" font-family='"Liberation Sans", sans-serif' font-size="54.51" font-weight="bold" font-style="normal" fill="#121212" style="font-kerning:none">Rectified Flow</text>
<text transform="translate(2236.68,1293.08) scale(0.5321,0.5373)" font-family='"Liberation Serif", serif' font-size="100.0" font-weight="bold" font-style="italic" fill="#121212">O</text>
<path d="M2248.0,1248.7 C2253.7,1241.8 2259.1,1243.0 2261.9,1245.9 C2264.6,1249.1 2268.7,1248.7 2273.0,1242.4" stroke="#121212" stroke-width="3.4" fill="none" stroke-linecap="round"/>
<text transform="translate(2276.79,1292.39) scale(0.5507,0.5850)" font-family='"Liberation Sans", sans-serif' font-size="100.0" font-weight="normal" font-style="normal" fill="#121212" stroke="#121212" stroke-width="1.41">(</text>
<text transform="translate(2297.02,1292.72) scale(0.6622,0.5905)" font-family='"Liberation Serif", serif' font-size="100.0" font-weight="bold" font-style="italic" fill="#121212">ε</text>
<text transform="translate(2325.57,1286.95) scale(0.6223,0.4029)" font-family='"Liberation Sans", sans-serif' font-size="100.0" font-weight="bold" font-style="normal" fill="#121212">-</text>
<text transform="translate(2347.41,1293.10) scale(0.5190,0.5785)" font-family='"Liberation Sans", sans-serif' font-size="100.0" font-weight="bold" font-style="normal" fill="#121212">4</text>
<text transform="translate(2378.48,1292.39) scale(0.5507,0.5850)" font-family='"Liberation Sans", sans-serif' font-size="100.0" font-weight="normal" font-style="normal" fill="#121212" stroke="#121212" stroke-width="1.41">)</text>
<text transform="translate(2236.68,1459.98) scale(0.5321,0.5373)" font-family='"Liberation Serif", serif' font-size="100.0" font-weight="bold" font-style="italic" fill="#121212">O</text>
<path d="M2248.0,1415.6 C2253.7,1408.7 2259.1,1409.9 2261.9,1412.8 C2264.6,1416.0 2268.7,1415.6 2273.0,1409.3" stroke="#121212" stroke-width="3.4" fill="none" stroke-linecap="round"/>
<text transform="translate(2276.79,1459.29) scale(0.5507,0.5850)" font-family='"Liberation Sans", sans-serif' font-size="100.0" font-weight="normal" font-style="normal" fill="#121212" stroke="#121212" stroke-width="1.41">(</text>
<text transform="translate(2297.02,1459.62) scale(0.6622,0.5905)" font-family='"Liberation Serif", serif' font-size="100.0" font-weight="bold" font-style="italic" fill="#121212">ε</text>
<text transform="translate(2325.57,1453.85) scale(0.6223,0.4029)" font-family='"Liberation Sans", sans-serif' font-size="100.0" font-weight="bold" font-style="normal" fill="#121212">-</text>
<text transform="translate(2346.20,1460.00) scale(0.5774,0.5700)" font-family='"Liberation Sans", sans-serif' font-size="100.0" font-weight="bold" font-style="normal" fill="#121212">2</text>
<text transform="translate(2378.48,1459.29) scale(0.5507,0.5850)" font-family='"Liberation Sans", sans-serif' font-size="100.0" font-weight="normal" font-style="normal" fill="#121212" stroke="#121212" stroke-width="1.41">)</text>
</svg>
</body></html>
